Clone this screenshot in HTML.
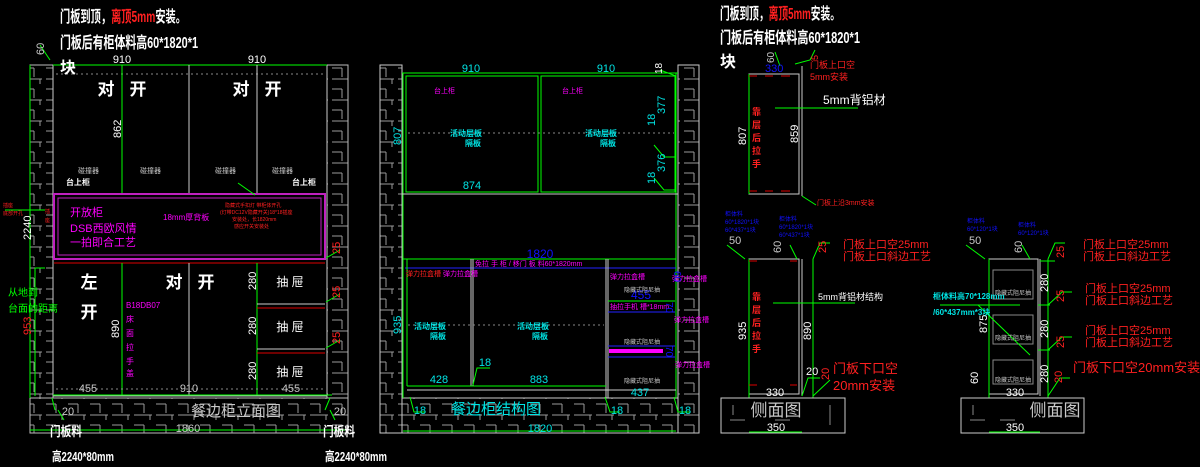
<!DOCTYPE html>
<html><head><meta charset="utf-8"><style>
html,body{margin:0;padding:0;background:#000;width:1200px;height:467px;overflow:hidden}
svg{display:block}
text{font-family:"Liberation Sans","Noto Sans CJK SC",sans-serif}
.w{fill:#fff}.g{fill:#00ff00}.c{fill:#00e5e5}.m{fill:#ff00ff}.r{fill:#ff2020}.b{fill:#1010ff}.gr{fill:#c8c8c8}
</style></head><body>
<svg width="1200" height="467" viewBox="0 0 1200 467" xmlns="http://www.w3.org/2000/svg">
<defs>
<pattern id="brick" width="22" height="21" patternUnits="userSpaceOnUse">
<path d="M2 5H12M12 5V14M2 16H20M18 16V21" stroke="#9a9a9a" stroke-width="1" fill="none"/>
</pattern>
</defs>
<g fill="none" stroke-width="1">
<rect x="30" y="65" width="23" height="333" fill="url(#brick)" stroke="#bbb"/>
<rect x="327" y="65" width="21" height="333" fill="url(#brick)" stroke="#bbb"/>
<rect x="30" y="398" width="318" height="35" fill="url(#brick)" stroke="#bbb"/>
<rect x="53" y="65" width="274" height="331" stroke="#ccc"/>
<line x1="53" y1="65" x2="327" y2="65" stroke="#0f0"/>
<line x1="30" y1="65" x2="30" y2="398" stroke="#0f0"/>
<line x1="56" y1="74" x2="325" y2="74" stroke="#888" stroke-dasharray="2,3"/>
<line x1="122" y1="65" x2="122" y2="194" stroke="#0f0"/>
<line x1="189" y1="65" x2="189" y2="194" stroke="#ccc"/>
<line x1="257" y1="65" x2="257" y2="194" stroke="#ccc"/>
<rect x="54" y="194" width="271" height="65" stroke="#c020c0" stroke-width="2"/>
<rect x="58" y="198" width="263" height="57" stroke="#c020c0"/>
<line x1="54" y1="263" x2="325" y2="263" stroke="#d00"/>
<line x1="122" y1="263" x2="122" y2="395" stroke="#0f0"/>
<line x1="189" y1="263" x2="189" y2="395" stroke="#ccc"/>
<line x1="257" y1="263" x2="257" y2="395" stroke="#0f0"/>
<line x1="257" y1="304" x2="325" y2="304" stroke="#ccc"/><line x1="257" y1="308" x2="325" y2="308" stroke="#d00"/>
<line x1="257" y1="349" x2="325" y2="349" stroke="#ccc"/><line x1="257" y1="353" x2="325" y2="353" stroke="#d00"/>
<line x1="56" y1="389" x2="325" y2="389" stroke="#888" stroke-dasharray="2,3"/>
<line x1="53" y1="395" x2="332" y2="395" stroke="#0f0"/>
<line x1="30" y1="430" x2="348" y2="430" stroke="#0f0"/>
<line x1="35" y1="268" x2="45" y2="268" stroke="#0f0"/><line x1="35" y1="268" x2="35" y2="396" stroke="#0f0"/>
<path d="M55 410L52 398M58 410L64 420M325 410L330 398M330 410L335 420M40 45L50 60M238 183L255 195" stroke="#0f0"/>
<path d="M326 258L340 250M326 302L340 294M326 348L340 340" stroke="#0f0"/>
<path d="M5 210H45" stroke="#0f0"/>

<rect x="380" y="65" width="22" height="368" fill="url(#brick)" stroke="#ccc"/>
<rect x="678" y="65" width="21" height="368" fill="url(#brick)" stroke="#ccc"/>
<rect x="402" y="398" width="276" height="35" fill="url(#brick)" stroke="#ccc"/>
<line x1="402" y1="73" x2="678" y2="73" stroke="#0f0"/>
<line x1="403" y1="73" x2="403" y2="398" stroke="#0f0"/>
<line x1="676" y1="73" x2="676" y2="398" stroke="#0f0"/>
<rect x="406" y="76" width="132" height="116" stroke="#0f0"/>
<rect x="541" y="76" width="134" height="116" stroke="#0f0"/>
<line x1="402" y1="194" x2="678" y2="194" stroke="#ccc"/>
<line x1="408" y1="133" x2="674" y2="133" stroke="#888" stroke-dasharray="2,3"/>
<path d="M654 145L664 157L676 157M654 178L664 190L676 190M660 70L676 76" stroke="#0f0"/>
<line x1="403" y1="259" x2="676" y2="259" stroke="#0f0"/>
<line x1="405" y1="268" x2="676" y2="268" stroke="#22f"/>
<line x1="407" y1="259" x2="407" y2="386" stroke="#0f0"/>
<line x1="471" y1="259" x2="471" y2="386" stroke="#ccc"/>
<line x1="473" y1="259" x2="473" y2="386" stroke="#ccc"/>
<line x1="606" y1="259" x2="606" y2="398" stroke="#ccc"/>
<line x1="608" y1="259" x2="608" y2="398" stroke="#ccc"/>
<line x1="407" y1="386" x2="606" y2="386" stroke="#0f0"/>
<line x1="407" y1="390" x2="676" y2="390" stroke="#ccc"/>
<line x1="408" y1="325" x2="604" y2="325" stroke="#888" stroke-dasharray="2,3"/>
<line x1="608" y1="301" x2="675" y2="301" stroke="#0f0"/><line x1="608" y1="312" x2="675" y2="312" stroke="#22f"/>
<line x1="608" y1="346" x2="675" y2="346" stroke="#22f"/><line x1="608" y1="357" x2="675" y2="357" stroke="#22f"/>
<rect x="609" y="349" width="54" height="4" fill="#ff00ff" stroke="none"/>
<line x1="403" y1="431" x2="676" y2="431" stroke="#0f0"/>
<path d="M410 397L414 412L425 412M605 397L610 412L620 412M674 397L678 412L690 412M473 385L477 368L490 368" stroke="#0f0"/>

<rect x="749" y="74" width="50" height="120" stroke="#ccc"/>
<line x1="749" y1="74" x2="749" y2="194" stroke="#0f0"/>
<line x1="802" y1="66" x2="802" y2="196" stroke="#ccc"/>
<path d="M749 76H757M765 76H773M781 76H790M749 191H757M765 191H773M781 191H790" stroke="#d00"/>
<path d="M775 108H858M802 196L816 205M795 64L810 60L815 50M780 66L775 52" stroke="#0f0"/>
<rect x="749" y="259" width="50" height="135" stroke="#ccc"/>
<line x1="749" y1="259" x2="749" y2="398" stroke="#0f0"/>
<line x1="802" y1="259" x2="802" y2="396" stroke="#ccc"/>
<line x1="813" y1="259" x2="813" y2="398" stroke="#0f0"/>
<path d="M749 261H757M790 261H797M749 385H757M790 385H797" stroke="#d00"/>
<rect x="721" y="398" width="124" height="35" stroke="#ccc"/>
<path d="M730 420H745M775 420H790M733 405V415M830 405V425" stroke="#888"/>
<line x1="749" y1="432" x2="802" y2="432" stroke="#0f0"/>
<path d="M773 303H855M727 245L745 259M790 245L797 259M813 259L820 243L830 243M813 396L830 380M802 396L808 378L820 378" stroke="#0f0"/>

<rect x="989" y="259" width="49" height="135" stroke="#ccc"/>
<line x1="989" y1="259" x2="989" y2="398" stroke="#0f0"/>
<line x1="1040" y1="259" x2="1040" y2="396" stroke="#ccc"/>
<line x1="1048" y1="259" x2="1048" y2="398" stroke="#0f0"/>
<rect x="993" y="270" width="40" height="29" stroke="#888"/>
<rect x="993" y="315" width="40" height="29" stroke="#888"/>
<rect x="993" y="360" width="40" height="24" stroke="#888"/>
<path d="M1038 305H1050M1038 350H1050M1040 261H1055" stroke="#0f0"/>
<rect x="961" y="398" width="123" height="35" stroke="#ccc"/>
<path d="M970 420H985M1000 420H1015M973 405V415" stroke="#888"/>
<line x1="989" y1="432" x2="1040" y2="432" stroke="#0f0"/>
<path d="M966 245L985 259M1022 245L1030 259M1048 259L1055 243L1065 243M1048 305L1062 292L1072 292M1048 350L1062 337L1072 337M1048 396L1060 378L1070 378M978 305L1030 355M940 305L1020 305" stroke="#0f0"/>
</g>

<g font-size="16" font-weight="bold">
<text x="60" y="22" class="w" textLength="126" lengthAdjust="spacingAndGlyphs">门板到顶，<tspan class="r">离顶5mm</tspan>安装。</text>
<text x="60" y="48" class="w" textLength="138" lengthAdjust="spacingAndGlyphs">门板后有柜体料高60*1820*1</text>
<text x="60" y="73" class="w">块</text>
<text x="720" y="19" class="w" textLength="120" lengthAdjust="spacingAndGlyphs">门板到顶，<tspan class="r">离顶5mm</tspan>安装。</text>
<text x="720" y="43" class="w" textLength="140" lengthAdjust="spacingAndGlyphs">门板后有柜体料高60*1820*1</text>
<text x="720" y="67" class="w">块</text>
</g>
<g font-size="11" class="w" text-anchor="middle">
<text x="122" y="63">910</text><text x="257" y="63">910</text>
<text x="88" y="392" class="gr">455</text><text x="189" y="392" class="gr">910</text><text x="291" y="392" class="gr">455</text>
<text x="68" y="415" class="gr">20</text><text x="340" y="415" class="gr">20</text><text x="188" y="432" class="gr">1860</text>
</g>
<g font-size="17" class="w" text-anchor="middle" font-weight="bold">
<text x="106" y="95">对</text><text x="138" y="95">开</text><text x="241" y="95">对</text><text x="273" y="95">开</text>
<text x="89" y="288">左</text><text x="89" y="318">开</text>
<text x="174" y="288">对</text><text x="206" y="288">开</text>
</g>
<g font-size="12" class="w" text-anchor="middle"><text x="290" y="286">抽 屉</text><text x="290" y="331">抽 屉</text><text x="290" y="376">抽 屉</text></g>
<text x="236" y="416" font-size="15" class="gr" text-anchor="middle">餐边柜立面图</text>
<g font-size="13" class="w" font-weight="bold"><text x="50" y="436" textLength="32" lengthAdjust="spacingAndGlyphs">门板料</text><text x="52" y="461" textLength="62" lengthAdjust="spacingAndGlyphs">高2240*80mm</text><text x="323" y="436" textLength="32" lengthAdjust="spacingAndGlyphs">门板料</text><text x="325" y="461" textLength="62" lengthAdjust="spacingAndGlyphs">高2240*80mm</text></g>
<g font-size="7" class="gr"><text x="78" y="173">碰撞器</text><text x="140" y="173">碰撞器</text><text x="215" y="173">碰撞器</text><text x="272" y="173">碰撞器</text></g>
<g font-size="8" class="w" font-weight="bold"><text x="66" y="185">台上柜</text><text x="292" y="185">台上柜</text></g>
<g class="m"><text x="70" y="216" font-size="11">开放柜</text><text x="70" y="232" font-size="11">DSB西欧风情</text><text x="70" y="246" font-size="11">一拍即合工艺</text>
<text x="163" y="220" font-size="8">18mm厚背板</text><text x="126" y="308" font-size="8">B18DB07</text>
<text x="126" y="322" font-size="8">床</text><text x="126" y="336" font-size="8">面</text><text x="126" y="350" font-size="8">拉</text><text x="126" y="364" font-size="8">手</text><text x="126" y="376" font-size="8">盖</text></g>
<g class="r" font-size="5"><text x="225" y="207">隐藏式手扣灯 带柜体开孔</text><text x="220" y="214">(灯带DC12V隐藏开关)18*18插座</text><text x="232" y="221">安装处，长1820mm</text><text x="234" y="228">感应开关安装处</text>
<text x="3" y="207">插座</text><text x="3" y="215">底部开孔</text><text x="45" y="213">插</text><text x="45" y="222">座</text></g>
<g class="g" font-size="10"><text x="8" y="296">从地到</text><text x="8" y="312">台面的距离</text></g>
<text transform="translate(31,240) rotate(-90)" font-size="11" class="w">2240</text>
<text transform="translate(31,335) rotate(-90)" font-size="11" class="r">953</text>
<text transform="translate(44,55) rotate(-90)" font-size="11" class="gr">60</text>
<text transform="translate(121,138) rotate(-90)" font-size="11" class="w">862</text>
<text transform="translate(119,338) rotate(-90)" font-size="11" class="w">890</text>
<text transform="translate(256,290) rotate(-90)" font-size="11" class="w">280</text>
<text transform="translate(256,335) rotate(-90)" font-size="11" class="w">280</text>
<text transform="translate(256,380) rotate(-90)" font-size="11" class="w">280</text>
<text transform="translate(340,254) rotate(-90)" font-size="11" class="r">25</text>
<text transform="translate(340,298) rotate(-90)" font-size="11" class="r">25</text>
<text transform="translate(340,344) rotate(-90)" font-size="11" class="r">25</text>

<g font-size="11" class="c" text-anchor="middle">
<text x="471" y="72">910</text><text x="606" y="72">910</text>
<text x="472" y="189">874</text><text x="439" y="383">428</text><text x="539" y="383">883</text><text x="640" y="396">437</text>
<text x="485" y="366">18</text><text x="420" y="414">18</text><text x="617" y="414">18</text><text x="685" y="414">18</text>
<text x="540" y="432">1820</text>
<text x="540" y="258" class="b" font-size="12">1820</text><text x="641" y="299" class="b" font-size="12">455</text>
<text x="496" y="414" font-size="15">餐边柜结构图</text>
</g>
<text transform="translate(401,145) rotate(-90)" font-size="11" class="c">807</text>
<text transform="translate(401,334) rotate(-90)" font-size="11" class="c">935</text>
<text transform="translate(665,114) rotate(-90)" font-size="11" class="c">377</text>
<text transform="translate(665,172) rotate(-90)" font-size="11" class="c">376</text>
<text transform="translate(655,126) rotate(-90)" font-size="11" class="c">18</text>
<text transform="translate(655,184) rotate(-90)" font-size="11" class="c">18</text>
<text transform="translate(662,74) rotate(-90)" font-size="10" class="w">18</text>
<g font-size="7" class="m"><text x="434" y="93">台上柜</text><text x="562" y="93">台上柜</text><text x="475" y="266">免拉 手 柜 / 移门 板 料60*1820mm</text>
<text x="443" y="276">弹力拉盒槽</text><text x="610" y="279">弹力拉盒槽</text><text x="672" y="281">弹力拉盒槽</text><text x="674" y="322">弹力拉盒槽</text><text x="675" y="367">弹力拉盒槽</text>
<text x="610" y="309">抽拉手机 槽*18mm</text></g>
<text x="406" y="276" font-size="7" class="r">弹力拉盒槽</text>
<g font-size="8" class="c" font-weight="bold"><text x="450" y="136">活动层板</text><text x="465" y="146">隔板</text><text x="585" y="136">活动层板</text><text x="600" y="146">隔板</text>
<text x="414" y="329">活动层板</text><text x="430" y="339">隔板</text><text x="517" y="329">活动层板</text><text x="532" y="339">隔板</text></g>
<g font-size="6" class="gr"><text x="624" y="292">隐藏式阻尼抽</text><text x="624" y="344">隐藏式阻尼抽</text><text x="624" y="383">隐藏式阻尼抽</text></g>
<text transform="translate(674,271) rotate(90)" font-size="10" class="b">60</text>
<text transform="translate(666,302) rotate(90)" font-size="10" class="b">70</text>
<text transform="translate(666,346) rotate(90)" font-size="10" class="b">70</text>

<text x="765" y="72" font-size="11" class="b">330</text>
<text transform="translate(774,63) rotate(-90)" font-size="10" class="gr">60</text>
<text transform="translate(818,60) rotate(-90)" font-size="9" class="r">5</text>
<g class="r" font-size="9"><text x="810" y="68">门板上口空</text><text x="810" y="80">5mm安装</text><text x="817" y="205" font-size="7">门板上沿3mm安装</text></g>
<text x="823" y="104" font-size="12" class="w">5mm背铝材</text>
<text x="818" y="300" font-size="9" class="w">5mm背铝材结构</text>
<g class="r" font-size="9" font-weight="bold"><text x="752" y="115">靠</text><text x="752" y="128">层</text><text x="752" y="141">后</text><text x="752" y="154">拉</text><text x="752" y="167">手</text>
<text x="752" y="300">靠</text><text x="752" y="313">层</text><text x="752" y="326">后</text><text x="752" y="339">拉</text><text x="752" y="352">手</text></g>
<text transform="translate(746,145) rotate(-90)" font-size="11" class="w">807</text>
<text transform="translate(798,143) rotate(-90)" font-size="11" class="w">859</text>
<text transform="translate(746,340) rotate(-90)" font-size="11" class="w">935</text>
<text transform="translate(811,340) rotate(-90)" font-size="11" class="w">890</text>
<text x="729" y="244" font-size="11" class="gr">50</text>
<text transform="translate(781,253) rotate(-90)" font-size="11" class="gr">60</text>
<text transform="translate(826,253) rotate(-90)" font-size="11" class="r">25</text>
<g class="b" font-size="6"><text x="725" y="216">柜体料</text><text x="725" y="224">60*1820*1块</text><text x="725" y="232">60*437*1块</text><text x="779" y="221">柜体料</text><text x="779" y="229">60*1820*1块</text><text x="779" y="237">60*437*1块</text>
<text x="967" y="223">柜体料</text><text x="967" y="231">60*120*1块</text><text x="1018" y="227">柜体料</text><text x="1018" y="235">60*120*1块</text></g>
<g class="r" font-size="11"><text x="843" y="248">门板上口空25mm</text><text x="843" y="260">门板上口斜边工艺</text>
<text x="833" y="373" font-size="13">门板下口空</text><text x="833" y="390" font-size="13">20mm安装</text></g>
<text x="806" y="375" font-size="11" class="w">20</text>
<text transform="translate(829,380) rotate(-90)" font-size="11" class="r">20</text>
<text x="775" y="396" font-size="11" class="w" text-anchor="middle">330</text>
<text x="776" y="416" font-size="17" class="gr" text-anchor="middle">侧面图</text>
<text x="776" y="431" font-size="11" class="w" text-anchor="middle">350</text>

<text x="969" y="244" font-size="11" class="gr">50</text>
<text transform="translate(1022,253) rotate(-90)" font-size="11" class="gr">60</text>
<text transform="translate(1064,258) rotate(-90)" font-size="11" class="r">25</text>
<text transform="translate(1064,302) rotate(-90)" font-size="11" class="r">25</text>
<text transform="translate(1064,348) rotate(-90)" font-size="11" class="r">25</text>
<text transform="translate(1062,383) rotate(-90)" font-size="11" class="r">20</text>
<text transform="translate(1048,292) rotate(-90)" font-size="11" class="w">280</text>
<text transform="translate(1048,338) rotate(-90)" font-size="11" class="w">280</text>
<text transform="translate(1048,383) rotate(-90)" font-size="11" class="w">280</text>
<text transform="translate(987,333) rotate(-90)" font-size="11" class="w">875</text>
<text transform="translate(978,384) rotate(-90)" font-size="11" class="w">60</text>
<g class="r" font-size="11"><text x="1083" y="248">门板上口空25mm</text><text x="1083" y="260">门板上口斜边工艺</text>
<text x="1085" y="292">门板上口空25mm</text><text x="1085" y="304">门板上口斜边工艺</text>
<text x="1085" y="334">门板上口空25mm</text><text x="1085" y="346">门板上口斜边工艺</text>
<text x="1073" y="372" font-size="13">门板下口空20mm安装</text></g>
<g class="c" font-size="8" font-weight="bold"><text x="933" y="299">柜体料高70*128mm</text><text x="933" y="315">/60*437mm*3块</text></g>
<g class="gr" font-size="6"><text x="995" y="295">隐藏式阻尼抽</text><text x="995" y="340">隐藏式阻尼抽</text><text x="995" y="382">隐藏式阻尼抽</text></g>
<text x="1015" y="396" font-size="11" class="w" text-anchor="middle">330</text>
<text x="1055" y="416" font-size="17" class="gr" text-anchor="middle">侧面图</text>
<text x="1015" y="431" font-size="11" class="w" text-anchor="middle">350</text>
</svg>
</body></html>
